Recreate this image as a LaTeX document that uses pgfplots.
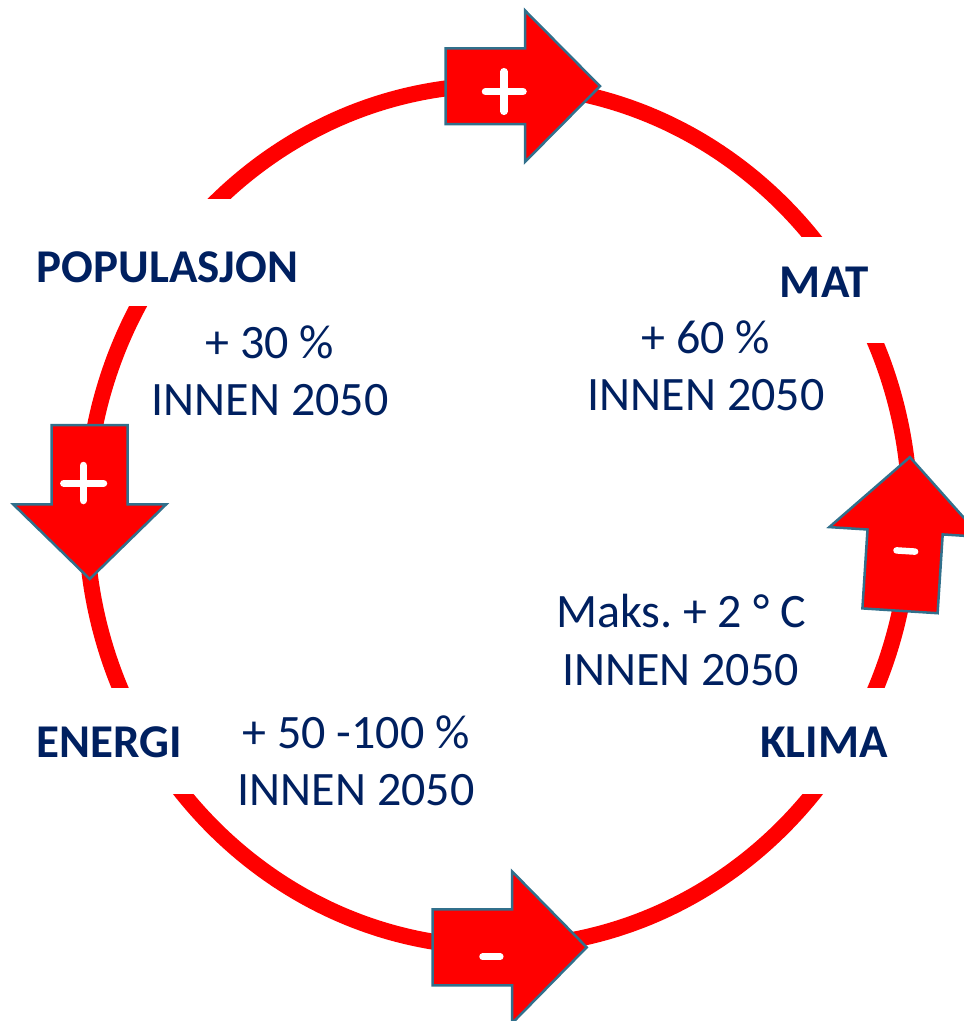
\documentclass[border=0pt]{standalone}
\usepackage{pgfplots}
\pgfplotsset{compat=1.18}
\usepackage{fontspec}
\setmainfont{Carlito}
\definecolor{txt}{HTML}{002060}
\definecolor{outl}{HTML}{31708C}
\definecolor{ringred}{HTML}{FF0000}
\begin{document}
\frenchspacing
\begin{tikzpicture}
\begin{axis}[width=964pt,height=1021pt,scale only axis,
  xmin=0,xmax=964,ymin=0,ymax=1021,y dir=reverse,hide axis,clip=false]
% ring
\draw[ringred, line width=16pt] (axis cs:498,516) ellipse [x radius=412, y radius=431];
% white label boxes cutting the ring
\fill[white] (axis cs:20,199) rectangle (axis cs:330,306);
\fill[white] (axis cs:760,237) rectangle (axis cs:910,343);
\fill[white] (axis cs:20,688) rectangle (axis cs:240,794);
\fill[white] (axis cs:740,688) rectangle (axis cs:910,794);
% top arrow (+)
\addplot[fill=ringred, draw=outl, line width=2.5pt, line join=miter] coordinates {
 (445.7,48.3) (525,48.3) (525,10.5) (600,86.2) (525,161.9) (525,124.1) (445.7,124.1)} --cycle;
\addplot[white, line width=7.5pt, line cap=round] coordinates {(504,71.7) (504,111.3)};
\addplot[white, line width=7.5pt, line cap=round] coordinates {(485.5,91.7) (523,91.7)};
% left arrow (+)
\addplot[fill=ringred, draw=outl, line width=2.5pt, line join=miter] coordinates {
 (51.7,425) (127.7,425) (127.7,504.3) (166.2,504.3) (89.7,579) (13.2,504.3) (51.7,504.3)} --cycle;
\addplot[white, line width=7.5pt, line cap=round] coordinates {(83.3,465.5) (83.3,500.5)};
\addplot[white, line width=7.5pt, line cap=round] coordinates {(63.8,483.3) (103.5,483.3)};
% right arrow (-), slightly tilted
\addplot[fill=ringred, draw=outl, line width=2.5pt, line join=miter] coordinates {
 (862.4,608.4) (867.5,529.5) (829.3,527.1) (909.9,457.1) (980.9,536.9) (942.7,534.4) (937.6,613.2)} --cycle;
\addplot[white, line width=6.5pt, line cap=round] coordinates {(896.5,550.4) (915.1,551.6)};
% bottom arrow (-)
\addplot[fill=ringred, draw=outl, line width=2.5pt, line join=miter] coordinates {
 (432.7,909.3) (512,909.3) (512,871.3) (586.7,947.3) (512,1023.3) (512,985.3) (432.7,985.3)} --cycle;
\addplot[white, line width=6.5pt, line cap=round] coordinates {(482.5,956.7) (500.3,956.7)};
% texts
\tikzset{lab/.style={anchor=base, text=txt, inner sep=0pt, font=\fontsize{47}{56}\selectfont\bfseries},
         num/.style={anchor=base, text=txt, inner sep=0pt, font=\fontsize{48}{57}\selectfont}}
\node[lab] at (axis cs:167.5,282) {POPULASJON};
\node[num] at (axis cs:270,358) {+ 30 \%};
\node[num] at (axis cs:270,415) {INNEN 2050};
\node[lab] at (axis cs:824.5,297) {MAT};
\node[num] at (axis cs:706,353) {+ 60 \%};
\node[num] at (axis cs:706,410) {INNEN 2050};
\node[lab] at (axis cs:109,757) {ENERGI};
\node[num] at (axis cs:356,748) {+ 50 -100 \%};
\node[num] at (axis cs:356,805) {INNEN 2050};
\node[num] at (axis cs:681,627) {Maks.\ + 2 ° C};
\node[num] at (axis cs:680.5,685) {INNEN 2050};
\node[lab] at (axis cs:824,757) {KLIMA};
\end{axis}
\pgfresetboundingbox
\path[use as bounding box] (0,0) rectangle (964pt,1021pt);
\end{tikzpicture}
\end{document}
